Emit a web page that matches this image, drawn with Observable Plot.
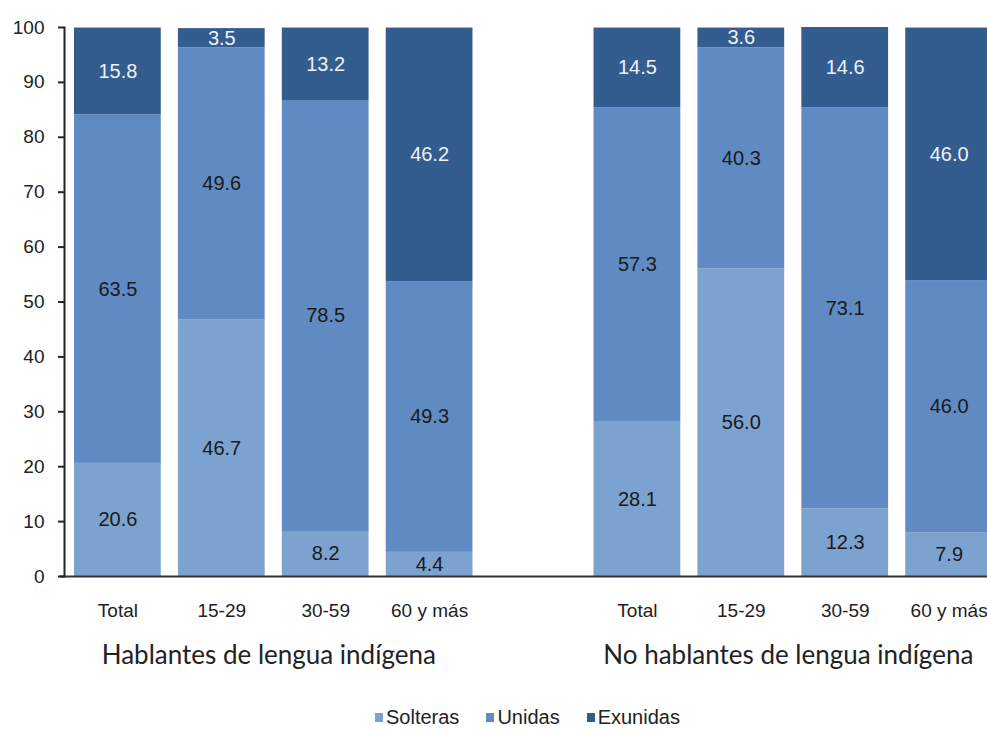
<!DOCTYPE html>
<html><head><meta charset="utf-8">
<script src="https://cdn.jsdelivr.net/npm/d3@7"></script>
<script src="https://cdn.jsdelivr.net/npm/@observablehq/plot@0.6"></script>
<style>
html,body{margin:0;padding:0;background:#fff;}
body{overflow:hidden;width:987px;height:730px;position:relative;font-family:"Liberation Sans",Arial,sans-serif;}
#legend{position:absolute;top:706px;left:375px;display:flex;align-items:center;gap:27px;font-size:20px;color:#222;font-family:"Liberation Sans",Arial,sans-serif;}
#legend .item{display:flex;align-items:center;gap:3px;}
#legend .sw{width:8px;height:9px;display:inline-block;}
</style></head><body>
<div id="chart"></div>
<div id="legend"></div>
<script>
const groups = ["Hablantes de lengua indígena", "No hablantes de lengua indígena"];
const ages = ["Total", "15-29", "30-59", "60 y más"];
const series = ["Solteras", "Unidas", "Exunidas"];
const colors = ["#7ca2d0", "#5f8ac2", "#335c8f"];
const solteras = [[20.6, 46.7, 8.2, 4.4], [28.1, 56.0, 12.3, 7.9]];
const unidas   = [[63.5, 49.6, 78.5, 49.3], [57.3, 40.3, 73.1, 46.0]];
const exunidas = [[15.8, 3.5, 13.2, 46.2], [14.5, 3.6, 14.6, 46.0]];
const yTicks = [0, 10, 20, 30, 40, 50, 60, 70, 80, 90, 100];

const values = [solteras, unidas, exunidas];
const slots = [];
groups.forEach((g, gi) => {
  ages.forEach(a => slots.push(gi + "|" + a));
  if (gi === 0) slots.push("gap");
});
const rows = [];
groups.forEach((g, gi) => {
  ages.forEach((a, ai) => {
    let acc = 0;
    series.forEach((s, si) => {
      const v = values[si][gi][ai];
      rows.push({key: gi + "|" + a, series: s, value: v, y1: acc, y2: acc + v, mid: acc + v / 2});
      acc += v;
    });
  });
});
const groupRows = groups.map((g, gi) => ({key: gi + "|15-29", label: g}));
const tickKeys = slots.filter(k => k !== "gap");

const chart = Plot.plot({
  width: 987,
  height: 700,
  marginTop: 27,
  marginBottom: 124,
  marginLeft: 64,
  marginRight: 0,
  style: {fontFamily: "'Liberation Sans', Arial, sans-serif", color: "#222", background: "#fff"},
  x: {domain: slots, range: [74, 992], paddingInner: 0.165, paddingOuter: 0, round: false, axis: null},
  y: {domain: [0, 100], axis: null},
  color: {domain: series, range: colors},
  marks: [
    Plot.barY(rows, {x: "key", y1: "y1", y2: "y2", fill: "series"}),
    Plot.text(rows, {x: "key", y: "mid", text: d => d.value.toFixed(1), fontSize: 20,
      fill: d => d.series === "Exunidas" ? "#eef2f8" : "#1a1a1a"}),
    Plot.ruleY([0], {stroke: "#333", strokeWidth: 2, insetLeft: -4}),
    Plot.frame({anchor: "left", stroke: "#222", strokeWidth: 2}),
    Plot.axisY({ticks: yTicks, tickSize: 6, tickPadding: 14, fontSize: 19, stroke: "#222", strokeWidth: 2, label: null}),
    Plot.axisX({ticks: tickKeys, tickSize: 0, tickPadding: 27, fontSize: 19, label: null, tickFormat: k => k.split("|")[1]}),
    Plot.text(groupRows, {x: "key", text: "label", frameAnchor: "bottom", dy: 87, dx: 47,
      fontSize: 26, fontFamily: "Lato, 'Open Sans', sans-serif", fill: "#222"})
  ]
});
document.getElementById("chart").appendChild(chart);

const legend = document.getElementById("legend");
series.forEach((s, i) => {
  const item = document.createElement("div");
  item.className = "item";
  const sw = document.createElement("span");
  sw.className = "sw";
  sw.style.background = colors[i];
  const t = document.createElement("span");
  t.textContent = s;
  item.appendChild(sw);
  item.appendChild(t);
  legend.appendChild(item);
});
</script>
</body></html>
